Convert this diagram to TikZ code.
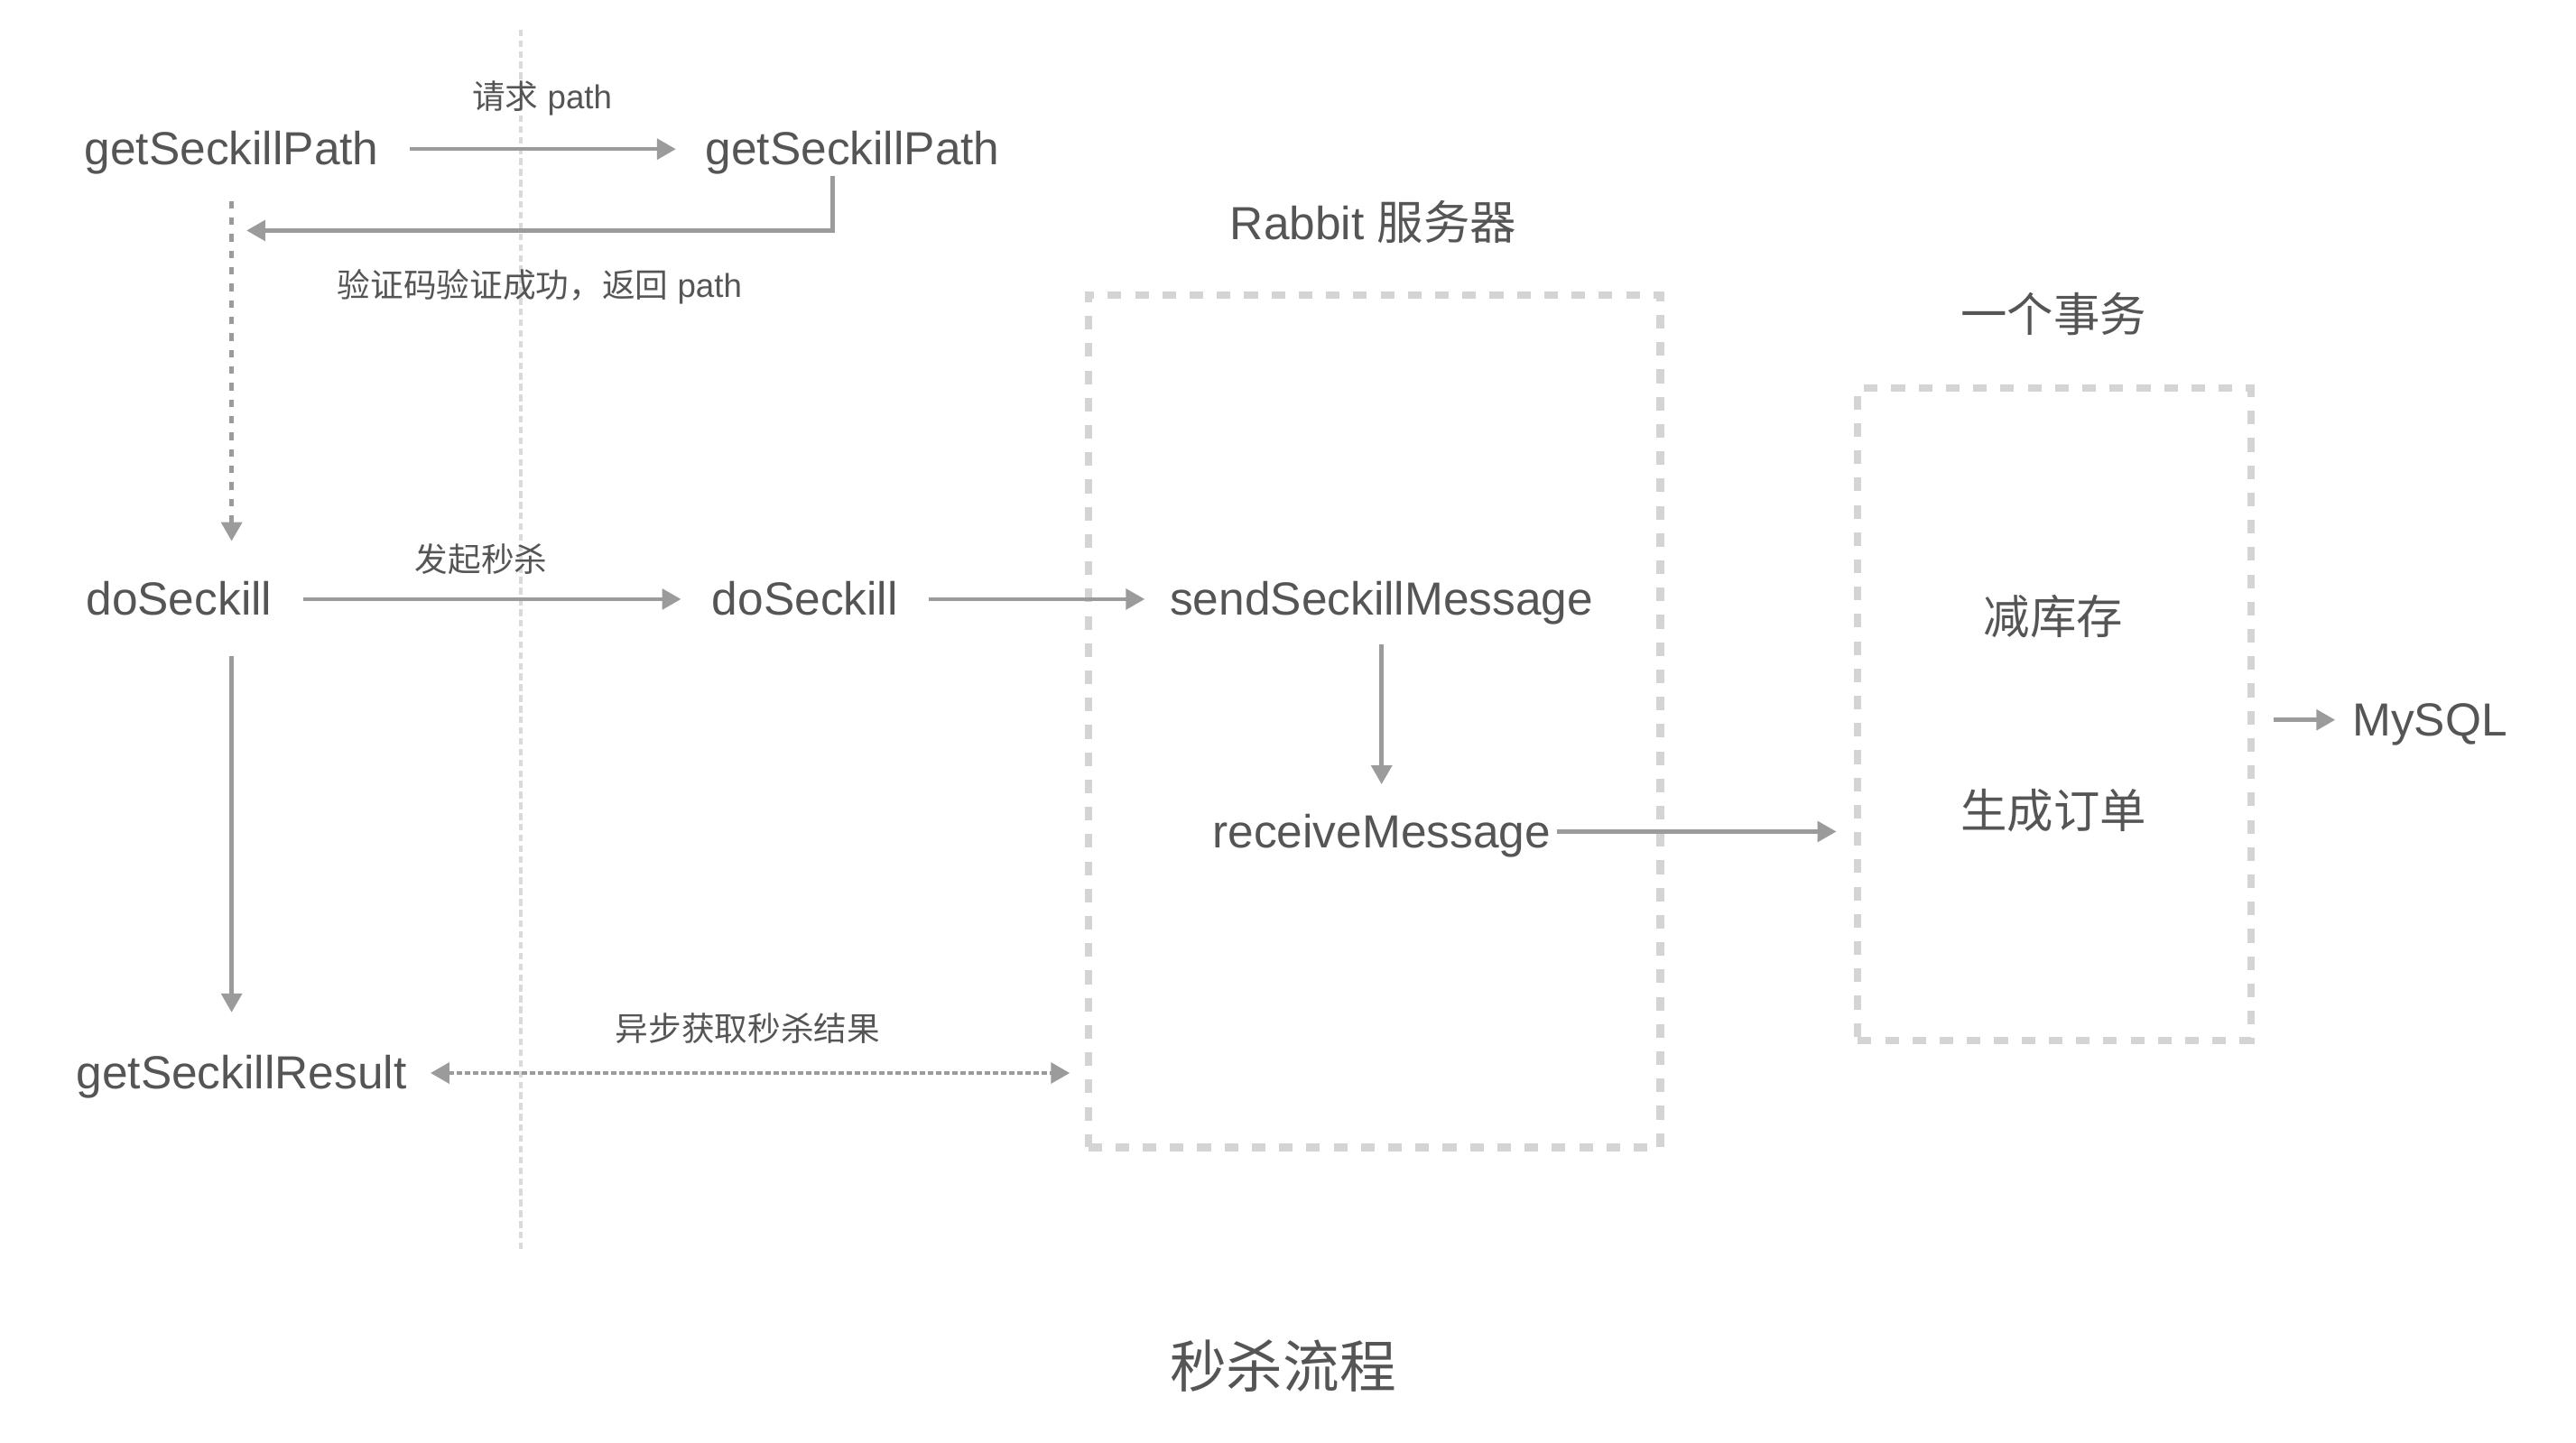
\documentclass[tikz,border=0pt]{standalone}
\usepackage{fontspec}
\setmainfont{Liberation Sans}
\newfontfamily\cjk{Noto Sans CJK SC}
\usepackage{tikz}
\usetikzlibrary{positioning, arrows.meta}
\definecolor{txtgray}{HTML}{555555}
\definecolor{arrgray}{HTML}{9B9B9B}
\definecolor{boxgray}{HTML}{D4D4D4}
\definecolor{sepgray}{HTML}{DADADA}

\begin{document}
\begin{tikzpicture}[x=0.0199cm, y=-0.0199cm,
    lbl/.style={font=\fontsize{16}{19}\selectfont, text=txtgray, inner sep=0pt, text height=14.5pt, text depth=3.5pt, anchor=base},
    small/.style={font=\fontsize{11.4}{13}\selectfont, text=txtgray, inner sep=0pt},
    title/.style={font=\fontsize{19.5}{22}\selectfont, text=txtgray, inner sep=0pt, anchor=base},
    arr/.style={draw=arrgray, line width=1.4pt, -{Triangle[length=6.5pt,width=7pt]}},
    arrdot/.style={dash pattern=on 1.9pt off 0.9pt, {Triangle[length=6.5pt,width=7pt]}-{Triangle[length=6.5pt,width=7pt]}},
    grpbox/.style={draw=boxgray, line width=2.5pt, dash pattern=on 4.7pt off 4.7pt, inner sep=0pt, outer sep=0pt},
    sepline/.style={draw=sepgray, line width=0.95pt, dash pattern=on 2.3pt off 1.4pt}]
    \useasboundingbox (0,0) rectangle (31.2cm,-17.47cm);
    \draw[sepline] (317,18) -- (317,762);

    \node[grpbox, minimum width=6.93cm, minimum height=10.33cm] (rabbit) at (836.5,439) {};
    \node[grpbox, minimum width=4.76cm, minimum height=7.9cm] (tx) at (1250.5,435) {};

    \node[lbl] (gsp1) at (141,100.5) {getSeckillPath};
    \node[lbl] (gsp2) at (519,100.5) {getSeckillPath};
    \node[lbl] (dos1) at (109,374.5) {doSeckill};
    \node[lbl] (dos2) at (490,374.5) {doSeckill};
    \node[lbl] (send) at (841,374.5) {sendSeckillMessage};
    \node[lbl] (recv) at (841,516) {receiveMessage};
    \node[lbl] (res) at (147,663) {getSeckillResult};
    \node[lbl] (mysql) at (1479,448) {MySQL};
    \node[lbl] (rabbitname) at (836,146) {Rabbit {\cjk 服务器}};
    \node[lbl] (txname) at (1250,202) {\cjk 一个事务};
    \node[lbl] (stock) at (1250,386) {\cjk 减库存};
    \node[lbl] (order) at (1250,504) {\cjk 生成订单};
    \node[title] (caption) at (781,845) {\cjk 秒杀流程};

    \path[every edge/.append style={arr}]
        (gsp1) edge[shorten <=10.5pt, shorten >=10pt] node[small, yshift=0.62cm] {{\cjk 请求} path} (gsp2)
        (dos1) edge[shorten <=10.5pt, shorten >=10.5pt] node[small, xshift=-0.13cm, yshift=0.48cm] {\cjk 发起秒杀} (dos2)
        (dos2) edge[shorten <=10.5pt, shorten >=8.5pt] (send)
        (send) edge[shorten <=6.4pt, shorten >=7.1pt] (recv)
        (recv) edge[shorten <=2pt, shorten >=7.4pt] (recv -| tx.west)
        (mysql -| tx.east) edge[shorten <=8pt, shorten >=5.7pt] (mysql)
        (gsp1.south) edge[dash pattern=on 2.6pt off 3.1pt, shorten <=8.7pt, shorten >=10.8pt] (gsp1 |- dos1.north)
        (gsp1 |- dos1.south) edge[shorten <=10.3pt, shorten >=11.7pt] (gsp1 |- res.north)
        (res) edge[arrdot, shorten <=8pt, shorten >=6.3pt] node[small, yshift=0.54cm] {\cjk 异步获取秒杀结果} (res -| rabbit.west);
    \draw[arr] ([xshift=-0.24cm]gsp2.south) |- node[small, pos=0.75, yshift=-0.68cm] {{\cjk 验证码验证成功，返回} path} ([xshift=0.18cm, yshift=-0.663cm]gsp1.south);
\end{tikzpicture}
\end{document}
